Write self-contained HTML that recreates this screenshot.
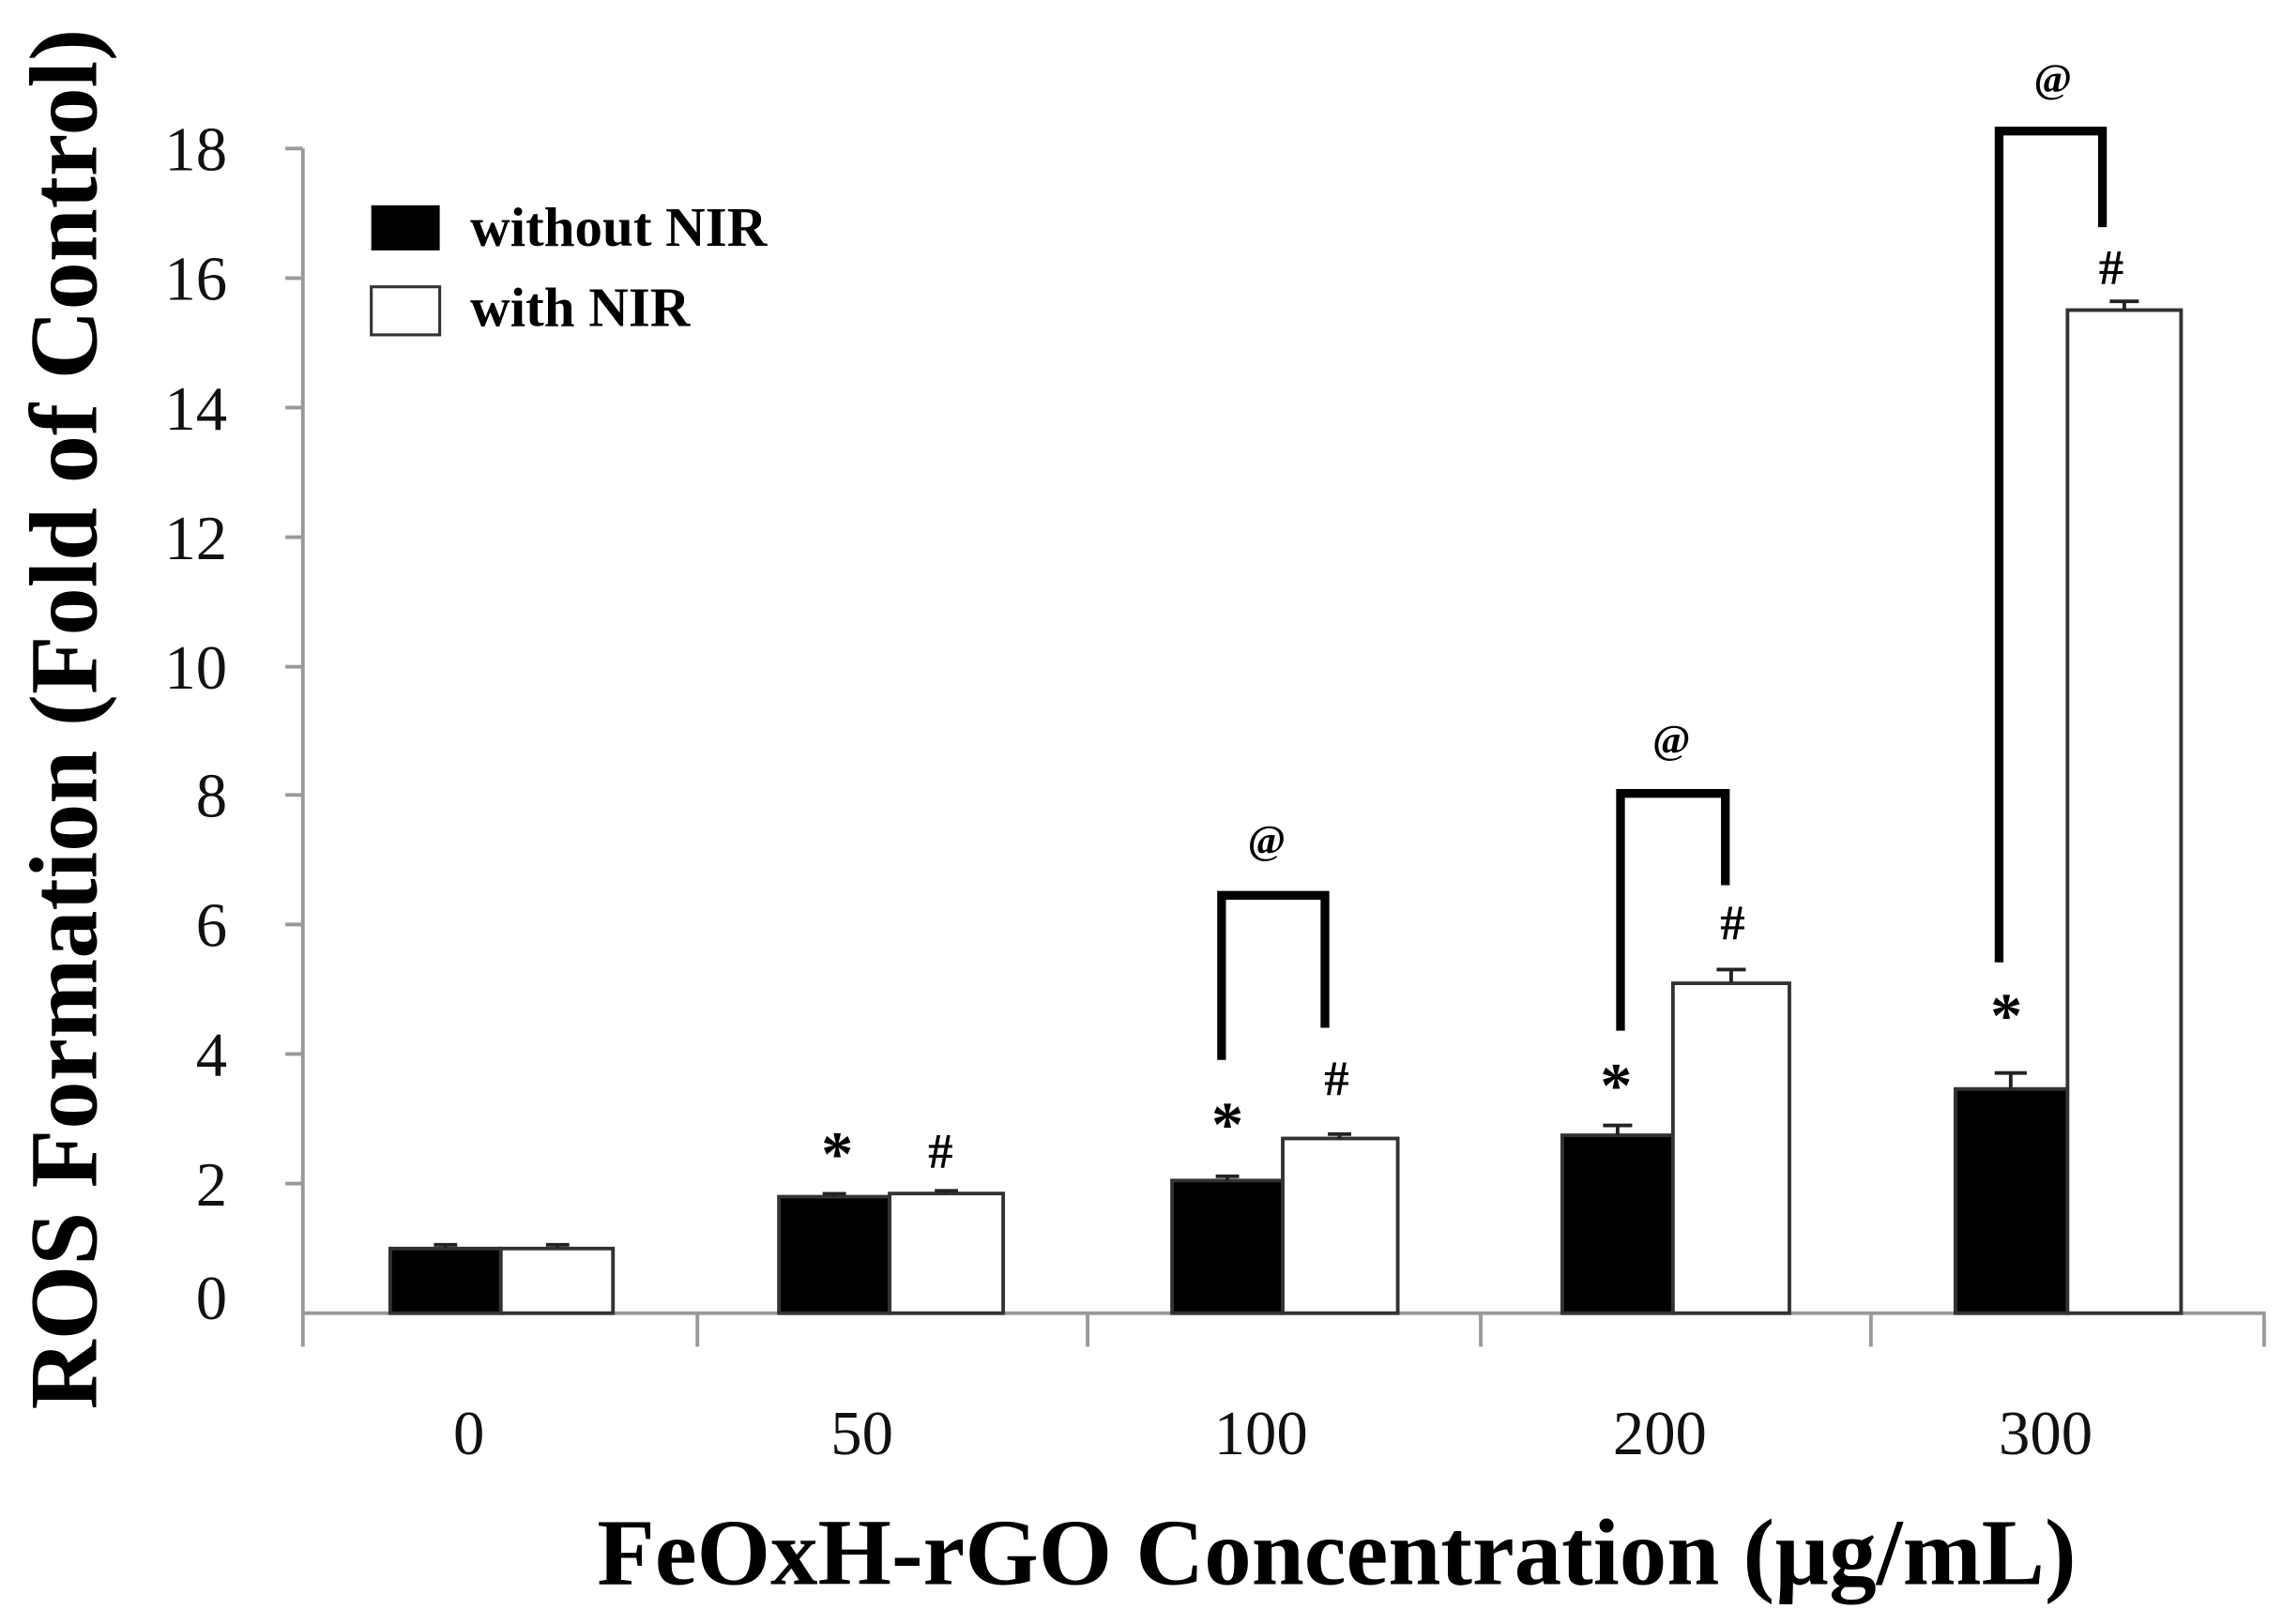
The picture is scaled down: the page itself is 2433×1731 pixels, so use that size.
<!DOCTYPE html>
<html><head><meta charset="utf-8"><style>
html,body{margin:0;padding:0;background:#fff;}
svg{display:block;}
</style></head><body>
<svg width="2433" height="1731" viewBox="0 0 1568 1115.5" preserveAspectRatio="none" xmlns="http://www.w3.org/2000/svg" font-family="Liberation Serif, serif">
<rect width="1568" height="1115.5" fill="#fff"/>
<g stroke="#999" stroke-width="2.5" fill="none">
<line x1="208" y1="102" x2="208" y2="925"/>
<line x1="208" y1="902" x2="1556" y2="902"/>
<line x1="196" y1="102" x2="208" y2="102"/>
<line x1="196" y1="191" x2="208" y2="191"/>
<line x1="196" y1="280" x2="208" y2="280"/>
<line x1="196" y1="369" x2="208" y2="369"/>
<line x1="196" y1="458" x2="208" y2="458"/>
<line x1="196" y1="546" x2="208" y2="546"/>
<line x1="196" y1="635" x2="208" y2="635"/>
<line x1="196" y1="724" x2="208" y2="724"/>
<line x1="196" y1="813" x2="208" y2="813"/>
<line x1="479" y1="902" x2="479" y2="925"/>
<line x1="747" y1="902" x2="747" y2="925"/>
<line x1="1017" y1="902" x2="1017" y2="925"/>
<line x1="1285" y1="902" x2="1285" y2="925"/>
<line x1="1555" y1="902" x2="1555" y2="925"/>
</g>
<g font-size="43" text-anchor="end" fill="#111">
<text x="156" y="117">18</text><text x="156" y="206">16</text><text x="156" y="295">14</text>
<text x="156" y="384">12</text><text x="156" y="473">10</text><text x="156" y="561">8</text>
<text x="156" y="650">6</text><text x="156" y="739">4</text><text x="156" y="828">2</text>
<text x="156" y="906">0</text>
</g>
<g font-size="43" text-anchor="middle" fill="#111">
<text x="322" y="999">0</text><text x="592" y="999">50</text><text x="866" y="999">100</text>
<text x="1140" y="999">200</text><text x="1405" y="999">300</text>
</g>
<text transform="translate(66,494) rotate(-90)" font-size="66" font-weight="bold" text-anchor="middle">ROS Formation (Fold of Control)</text>
<text x="918" y="1088" font-size="65" font-weight="bold" text-anchor="middle">FeOxH-rGO Concentration (µg/mL)</text>
<rect x="255" y="141" width="47" height="31" fill="#000"/>
<rect x="255" y="197" width="47" height="33" fill="#fff" stroke="#333" stroke-width="2"/>
<text x="323" y="169" font-size="38" font-weight="bold">without NIR</text>
<text x="323" y="224" font-size="38" font-weight="bold">with NIR</text>
<g stroke="#333" stroke-width="2.5">
<rect x="268" y="857.6" width="76" height="44.4" fill="#000"/>
<rect x="344" y="857.6" width="77" height="44.4" fill="#fff"/>
<rect x="535" y="822" width="76" height="80" fill="#000"/>
<rect x="611" y="819.8" width="78" height="82.2" fill="#fff"/>
<rect x="805" y="810.9" width="76" height="91.1" fill="#000"/>
<rect x="881" y="782" width="79" height="120" fill="#fff"/>
<rect x="1073" y="779.8" width="76" height="122.2" fill="#000"/>
<rect x="1149" y="675.4" width="80" height="226.6" fill="#fff"/>
<rect x="1343" y="748" width="77" height="154" fill="#000"/>
<rect x="1420" y="213" width="78" height="689" fill="#fff"/>
</g>
<g stroke="#222" stroke-width="2.5">
<path d="M306 857V855M298 855H314M383 857V855M375 855H391"/>
<path d="M573 822V820M565 820H581M650 820V818M642 818H658"/>
<path d="M843 811V808M835 808H851M920 782V779M912 779H928"/>
<path d="M1111 780V773M1101 773H1121M1189 675V666M1179 666H1199"/>
<path d="M1381 748V737M1370 737H1392M1459 213V207M1449 207H1469"/>
</g>
<g stroke="#000" stroke-width="6" fill="none">
<path d="M839 728V615H910V706"/>
<path d="M1113 708V545H1185V608"/>
<path d="M1373 661V90H1444V156"/>
</g>
<g font-size="34" text-anchor="middle" font-weight="bold">
<text x="870" y="586" font-size="28">@</text>
<text x="1148" y="517" font-size="28">@</text>
<text x="1410" y="63" font-size="28">@</text>
<text x="575" y="807" font-size="44">*</text>
<text x="646" y="802">#</text>
<text x="843" y="787" font-size="44">*</text>
<text x="918" y="752">#</text>
<text x="1110" y="760" font-size="44">*</text>
<text x="1190" y="645">#</text>
<text x="1378" y="712" font-size="44">*</text>
<text x="1450" y="195">#</text>
</g>
</svg>
</body></html>
